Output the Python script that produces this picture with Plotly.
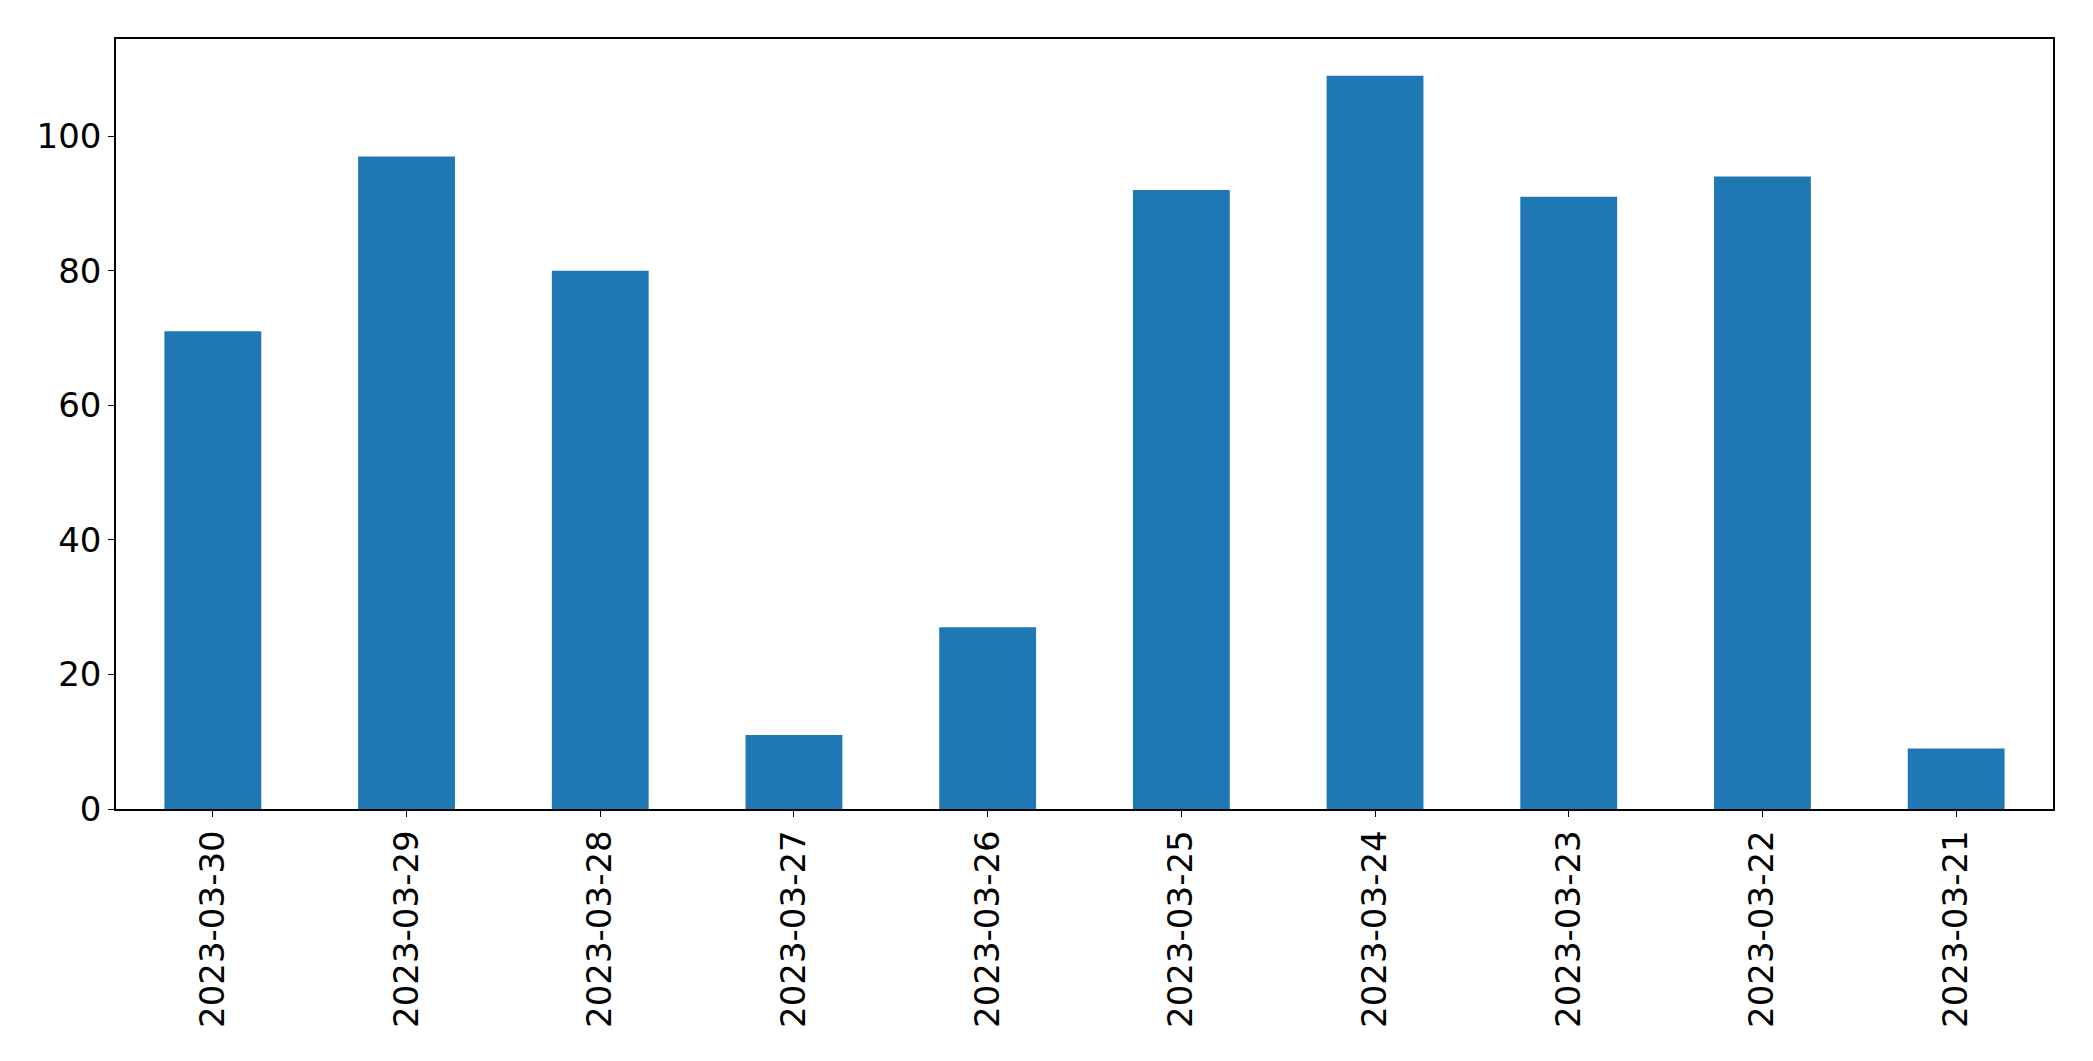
import plotly.graph_objects as go

dates = ["2023-03-30", "2023-03-29", "2023-03-28", "2023-03-27", "2023-03-26",
         "2023-03-25", "2023-03-24", "2023-03-23", "2023-03-22", "2023-03-21"]
counts = [71, 97, 80, 11, 27, 92, 109, 91, 94, 9]

fig = go.Figure(go.Bar(x=dates, y=counts, marker_color="#1f77b4", marker_line_width=0, width=0.5))

# page body has an 8px margin, so the figure is offset by 8px
fig.update_layout(
    width=2085, height=1053,
    margin=dict(l=108, r=40, t=31, b=252),
    plot_bgcolor="white", paper_bgcolor="white",
    font=dict(family="DejaVu Sans", size=34, color="black"),
    showlegend=False,
    bargap=0.5,
)
fig.update_xaxes(type="category", range=[-0.5, len(dates) - 0.5], tickangle=-90,
                 showline=True, mirror=True, linecolor="black", linewidth=1.5,
                 ticks="outside", ticklen=6, tickcolor="black", showgrid=False)
fig.update_yaxes(range=[0, max(counts) * 1.05], tickvals=[0, 20, 40, 60, 80, 100],
                 showline=True, mirror=True, linecolor="black", linewidth=1.5,
                 ticks="outside", ticklen=6, tickcolor="black", showgrid=False, zeroline=False)

fig.write_html("out.html")
